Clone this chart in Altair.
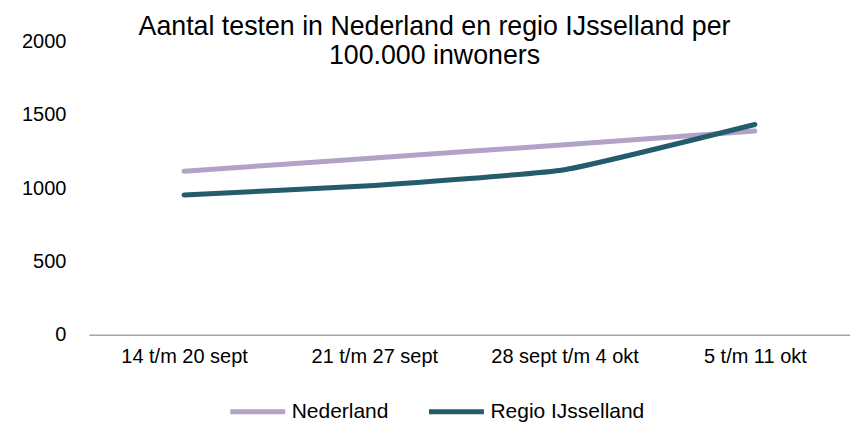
import altair as alt
import pandas as pd

weeks = ["14 t/m 20 sept", "21 t/m 27 sept", "28 sept t/m 4 okt", "5 t/m 11 okt"]
nederland = [1115, 1205, 1295, 1388]
ijsselland = [953, 1018, 1125, 1433]
series = ["Nederland", "Regio IJsselland"]
colors = ["#b3a2c7", "#245c6b"]

rows = []
for w, v in zip(weeks, nederland):
    rows.append({"week": w, "serie": series[0], "value": v})
for w, v in zip(weeks, ijsselland):
    rows.append({"week": w, "serie": series[1], "value": v})
df = pd.DataFrame(rows)

chart = alt.Chart(df).mark_line(
    strokeWidth=5, strokeCap="round", interpolate="cardinal", tension=0.6
).encode(
    x=alt.X("week:N", sort=weeks, title=None,
            scale=alt.Scale(type="point", padding=0.5),
            axis=alt.Axis(labelAngle=0, ticks=False, grid=False, domainColor="#a6a6a6",
                          domainWidth=1.5, labelFont="Liberation Sans", labelFontSize=20,
                          labelColor="#000000", labelPadding=12)),
    y=alt.Y("value:Q", title=None,
            scale=alt.Scale(domain=[0, 2000], nice=False),
            axis=alt.Axis(values=[0, 500, 1000, 1500, 2000], domain=False, ticks=False, grid=False,
                          format="d",
                          labelFont="Liberation Sans", labelFontSize=20, labelColor="#000000",
                          labelPadding=23)),
    color=alt.Color("serie:N", sort=series,
                    scale=alt.Scale(domain=series, range=colors),
                    legend=alt.Legend(title=None, orient="none", direction="horizontal",
                                      legendX=139, legendY=341, symbolType="stroke",
                                      symbolSize=3025, symbolStrokeWidth=5,
                                      labelFont="Liberation Sans", labelFontSize=21,
                                      labelColor="#000000", labelOffset=4, columnPadding=30)),
).properties(
    width=762,
    height=294,
    title=alt.TitleParams(
        text=["Aantal testen in Nederland en regio IJsselland per", "100.000 inwoners"],
        font="Liberation Sans", fontSize=26.8, fontWeight="normal", color="#000000",
        anchor="middle", frame="group", dx=-35, lineHeight=29, offset=0, baseline="top", dy=39
    ),
    autosize=alt.AutoSizeParams(type="none"),
    padding={"left": 81, "top": 33, "right": 0, "bottom": 90},
).configure_view(stroke=None)

chart.save("out.html", embed_options={"renderer": "svg", "actions": False})
